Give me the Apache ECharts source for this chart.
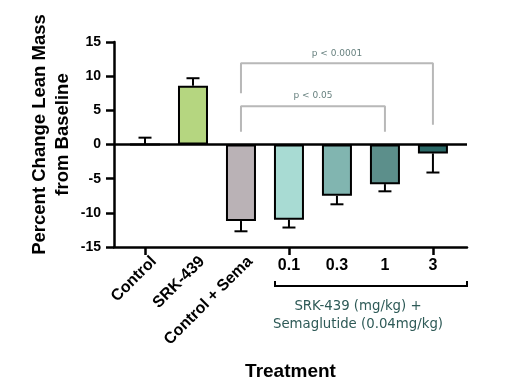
<!DOCTYPE html>
<html><head><meta charset="utf-8">
<script src="https://cdn.jsdelivr.net/npm/echarts@6/dist/echarts.min.js"></script>
<style>html,body{margin:0;padding:0;background:#fff}#c{width:508px;height:392px}</style>
</head><body><div id="c"></div>
<script>
const categories = ['Control', 'SRK-439', 'Control + Sema', '0.1', '0.3', '1', '3'];
const means = [0, 8.6, -11.2, -11.0, -7.5, -5.8, -1.3];
const errors = [1.0, 1.1, 1.5, 1.15, 1.25, 1.05, 2.8];
const barColors = ['#ffffff', '#b5d680', '#bab2b6', '#a8dbd3', '#81b5b0', '#5c8f8b', '#2a6866'];
const yTicks = [-15, -10, -5, 0, 5, 10, 15];
const bracketHigh = [[2, 7.5], [2, 11.9], [6, 11.9], [6, 2.9]];
const bracketLow = [[2, 1.85], [2, 5.6], [5, 5.6], [5, 1.85]];
const pLabels = [[4, 13.3, 'p < 0.0001'], [3.5, 7.1, 'p < 0.05']];
const groupLabel = 'SRK-439 (mg/kg) +\nSemaglutide (0.04mg/kg)';

const chart = echarts.init(document.getElementById('c'));
const F = 'Liberation Sans, Arial, sans-serif';
const xMin = -0.646, xMax = 6.71, yMin = -15, yMax = 15;
const rotShift = 0.19;

chart.setOption({
  animation: false,
  grid: [
    { left: 114, right: 41, top: 42, bottom: 145 },
    { left: 121, right: 51, top: 42, bottom: 145 }
  ],
  xAxis: [
    {
      type: 'value', min: xMin, max: xMax, position: 'bottom', gridIndex: 0,
      axisLine: { onZero: false, lineStyle: { color: '#000', width: 2.5 } },
      axisTick: { show: false },
      splitLine: { show: false },
      axisLabel: { show: false },
      name: 'Treatment', nameLocation: 'middle', nameGap: 115,
      nameTextStyle: { fontFamily: F, fontWeight: 'bold', fontSize: 19, color: '#000' }
    },
    {
      type: 'value', min: xMin, max: xMax, position: 'bottom', gridIndex: 0,
      axisLine: { show: false }, axisTick: { show: false }, splitLine: { show: false },
      axisLabel: {
        customValues: [0 + rotShift, 1 + rotShift, 2 + rotShift], rotate: 45, margin: 12,
        formatter: v => categories[Math.round(v)],
        fontFamily: F, fontWeight: 'bold', fontSize: 16, color: '#000'
      }
    },
    {
      type: 'value', min: xMin, max: xMax, position: 'bottom', gridIndex: 0,
      axisLine: { show: false }, axisTick: { show: false }, splitLine: { show: false },
      axisLabel: {
        customValues: [3, 4, 5, 6], margin: 11,
        formatter: v => categories[Math.round(v)],
        fontFamily: F, fontWeight: 'bold', fontSize: 16, color: '#000'
      }
    },
    {
      type: 'category', data: categories, gridIndex: 1, position: 'bottom',
      axisLine: { show: false, onZero: false },
      axisTick: { show: true, alignWithLabel: true, length: 8, lineStyle: { color: '#000', width: 2.5 } },
      axisLabel: { show: false }, splitLine: { show: false }
    }
  ],
  yAxis: [
    {
      type: 'value', min: yMin, max: yMax, interval: 5, gridIndex: 0,
      axisLine: { show: true, onZero: false, lineStyle: { color: '#000', width: 2.5 } },
      axisTick: { show: true, length: 8, lineStyle: { color: '#000', width: 2.5 } },
      splitLine: { show: false },
      axisLabel: {
        margin: 13, fontFamily: F, fontWeight: 'bold', fontSize: 14, color: '#000',
        customValues: yTicks
      },
      name: 'Percent Change Lean Mass\nfrom Baseline', nameLocation: 'middle', nameGap: 40,
      nameMoveOverlap: false,
      nameTextStyle: {
        fontFamily: F, fontWeight: 'bold', fontSize: 18.5, color: '#000', lineHeight: 23,
        padding: [0, 0, 0, 20]
      }
    },
    {
      type: 'value', min: yMin, max: yMax, gridIndex: 1, show: false
    }
  ],
  series: [
    {
      type: 'bar', barWidth: 30, xAxisIndex: 0, yAxisIndex: 0,
      data: means.map((m, i) => ({
        value: [i, m],
        itemStyle: { color: barColors[i], borderColor: '#000', borderWidth: 2 }
      })),
      markLine: {
        silent: true, symbol: 'none', label: { show: false },
        lineStyle: { color: '#000', width: 2.5, type: 'solid' },
        data: [{ yAxis: 0 }]
      },
      z: 2
    },
    {
      type: 'custom', xAxisIndex: 0, yAxisIndex: 0,
      data: means.map((m, i) => [i, m, errors[i]]),
      renderItem: (params, api) => {
        const x = api.value(0), m = api.value(1), e = api.value(2);
        const s = m >= 0 ? 1 : -1;
        const p0 = api.coord([x, m]);
        const p1 = api.coord([x, m + s * e]);
        const st = { stroke: '#000', lineWidth: 2 };
        return {
          type: 'group', children: [
            { type: 'line', shape: { x1: p0[0], y1: p0[1], x2: p1[0], y2: p1[1] }, style: st },
            { type: 'line', shape: { x1: p1[0] - 6.5, y1: p1[1], x2: p1[0] + 6.5, y2: p1[1] }, style: st }
          ]
        };
      },
      z: 3
    },
    {
      type: 'line', data: bracketHigh, symbol: 'none', silent: true, xAxisIndex: 0, yAxisIndex: 0,
      lineStyle: { color: '#b8b8b8', width: 2 }, z: 1
    },
    {
      type: 'line', data: bracketLow, symbol: 'none', silent: true, xAxisIndex: 0, yAxisIndex: 0,
      lineStyle: { color: '#b8b8b8', width: 2 }, z: 1
    },
    {
      type: 'scatter', symbolSize: 0, silent: true, xAxisIndex: 0, yAxisIndex: 0,
      data: pLabels.map(p => ({ value: [p[0], p[1]], name: p[2] })),
      label: {
        show: true, position: 'inside', formatter: p => p.name,
        fontFamily: 'DejaVu Sans, sans-serif', fontSize: 9, color: '#3f5f5d'
      }
    }
  ],
  graphic: [
    {
      type: 'polyline', shape: { points: [[275, 281], [275, 286], [467, 286], [467, 281]] },
      style: { stroke: '#000', lineWidth: 2, fill: null }
    },
    {
      type: 'text', x: 358, y: 316,
      style: {
        text: groupLabel, align: 'center', verticalAlign: 'middle',
        fontFamily: 'DejaVu Sans, sans-serif', fontSize: 13.3, lineHeight: 18, fill: '#2e5a57'
      }
    }
  ]
});
</script></body></html>
